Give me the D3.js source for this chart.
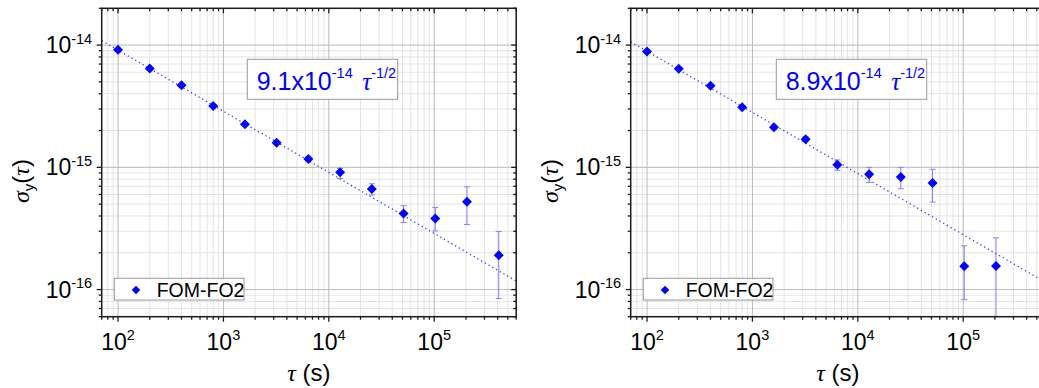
<!DOCTYPE html>
<html>
<head>
<meta charset="utf-8">
<script src="https://cdn.jsdelivr.net/npm/d3@7"></script>
<style>
  html, body { margin: 0; padding: 0; background: #fff; }
  svg { display: block; }
</style>
</head>
<body>
<svg id="chart" width="1039" height="388"></svg>
<script>
// ---------------- data ----------------
const tauLeft = [100, 200, 400, 800, 1600, 3200, 6400, 12800, 25600, 51200, 102400, 204800, 409600];
const sigmaLeft = [9.15e-15, 6.43e-15, 4.70e-15, 3.18e-15, 2.25e-15, 1.59e-15, 1.17e-15, 9.1e-16, 6.64e-16, 4.2e-16, 3.82e-16, 5.23e-16, 1.91e-16];
const upperLeft = [9.3e-15, 6.55e-15, 4.8e-15, 3.25e-15, 2.3e-15, 1.64e-15, 1.22e-15, 9.8e-16, 7.34e-16, 4.85e-16, 4.7e-16, 6.93e-16, 2.99e-16];
const lowerLeft = [9.0e-15, 6.3e-15, 4.6e-15, 3.1e-15, 2.2e-15, 1.54e-15, 1.12e-15, 8.1e-16, 5.93e-16, 3.54e-16, 3.02e-16, 3.41e-16, 8.44e-17];

const tauRight = [100, 200, 400, 800, 1600, 3200, 6400, 12800, 25600, 51200, 102400, 204800];
const sigmaRight = [8.87e-15, 6.4e-15, 4.64e-15, 3.1e-15, 2.13e-15, 1.70e-15, 1.05e-15, 8.8e-16, 8.33e-16, 7.44e-16, 1.55e-16, 1.56e-16];
const upperRight = [9.0e-15, 6.5e-15, 4.75e-15, 3.18e-15, 2.2e-15, 1.78e-15, 1.15e-15, 1.0e-15, 1.0e-15, 9.63e-16, 2.28e-16, 2.65e-16];
const lowerRight = [8.7e-15, 6.3e-15, 4.55e-15, 3.02e-15, 2.06e-15, 1.62e-15, 9.45e-16, 7.53e-16, 6.68e-16, 5.2e-16, 8.28e-17, 3e-17];

const fitCoefLeft = 9.1e-14;
const fitCoefRight = 8.9e-14;
const fitMantLeft = "9.1";
const fitMantRight = "8.9";

const xDomain = [70, 6e5];
const yDomain = [6e-17, 2e-14];
const xMajor = [1e2, 1e3, 1e4, 1e5];
const xMajorExp = ["2", "3", "4", "5"];
const yMajor = [1e-14, 1e-15, 1e-16];
const yMajorExp = ["-14", "-15", "-16"];
const seriesName = "FOM-FO2";

// ---------------- layout ----------------
const svg = d3.select("#chart");
const SANS = "Arial, 'Liberation Sans', sans-serif";
const SERIF = "'Times New Roman', 'Liberation Serif', serif";
const plotW = 414.5, plotH = 308.4, plotTop = 8.3;
const BLUE = "#0000ff";

function minorTicks(lo, hi) {
  const out = [];
  for (let e = Math.floor(Math.log10(lo)); e <= Math.ceil(Math.log10(hi)); e++) {
    for (let k = 2; k <= 9; k++) {
      const v = k * Math.pow(10, e);
      if (v >= lo && v <= hi) out.push(v);
    }
  }
  return out;
}

function drawPanel(idx, left, tau, sigma, upper, lower, coef, mant) {
  const g = svg.append("g").attr("transform", `translate(${left},${plotTop})`);
  const x = d3.scaleLog().domain(xDomain).range([0, plotW]);
  const y = d3.scaleLog().domain(yDomain).range([plotH, 0]);
  const xMinor = minorTicks(xDomain[0], xDomain[1]);
  const yMinor = minorTicks(yDomain[0], yDomain[1]);

  const clipId = "clip" + idx;
  g.append("clipPath").attr("id", clipId).append("rect")
    .attr("x", 0).attr("y", 0).attr("width", plotW).attr("height", plotH);

  // grid
  const grid = g.append("g");
  grid.selectAll("line.vmin").data(xMinor).join("line")
    .attr("x1", d => x(d)).attr("x2", d => x(d)).attr("y1", 0).attr("y2", plotH)
    .attr("stroke", "#e4e4e4").attr("stroke-width", 1);
  grid.selectAll("line.hmin").data(yMinor).join("line")
    .attr("y1", d => y(d)).attr("y2", d => y(d)).attr("x1", 0).attr("x2", plotW)
    .attr("stroke", "#e4e4e4").attr("stroke-width", 1);
  grid.selectAll("line.vmaj").data(xMajor).join("line")
    .attr("x1", d => x(d)).attr("x2", d => x(d)).attr("y1", 0).attr("y2", plotH)
    .attr("stroke", "#b9b9b9").attr("stroke-width", 1);
  grid.selectAll("line.hmaj").data(yMajor).join("line")
    .attr("y1", d => y(d)).attr("y2", d => y(d)).attr("x1", 0).attr("x2", plotW)
    .attr("stroke", "#b9b9b9").attr("stroke-width", 1);

  // fit line
  const data = tau.map((t, i) => ({ t, s: sigma[i], hi: upper[i], lo: lower[i] }));
  const body = g.append("g").attr("clip-path", `url(#${clipId})`);
  body.append("path")
    .datum(xDomain.map(t => ({ t, s: coef / Math.sqrt(t) })))
    .attr("d", d3.line().x(d => x(d.t)).y(d => y(d.s)))
    .attr("fill", "none").attr("stroke", "#3b3bff").attr("stroke-width", 1.3)
    .attr("stroke-dasharray", "1.3,3");

  // error bars
  const eb = body.append("g").attr("stroke", "#8585ee").attr("stroke-width", 1);
  eb.selectAll("line.v").data(data).join("line")
    .attr("x1", d => x(d.t)).attr("x2", d => x(d.t))
    .attr("y1", d => y(d.hi)).attr("y2", d => y(d.lo));
  eb.selectAll("line.cu").data(data).join("line")
    .attr("x1", d => x(d.t) - 3).attr("x2", d => x(d.t) + 3)
    .attr("y1", d => y(d.hi)).attr("y2", d => y(d.hi));
  eb.selectAll("line.cl").data(data).join("line")
    .attr("x1", d => x(d.t) - 3).attr("x2", d => x(d.t) + 3)
    .attr("y1", d => y(d.lo)).attr("y2", d => y(d.lo));

  // markers
  const dm = 5;
  body.selectAll("path.pt").data(data).join("path")
    .attr("d", d => `M${x(d.t)},${y(d.s) - dm}L${x(d.t) + dm},${y(d.s)}L${x(d.t)},${y(d.s) + dm}L${x(d.t) - dm},${y(d.s)}Z`)
    .attr("fill", BLUE);

  // frame
  g.append("rect").attr("x", 0).attr("y", 0).attr("width", plotW).attr("height", plotH)
    .attr("fill", "none").attr("stroke", "#1c1c1c").attr("stroke-width", 1.5);

  // ticks
  const tk = g.append("g").attr("stroke", "#1c1c1c").attr("stroke-width", 1.3);
  tk.selectAll("line.bM").data(xMajor).join("line")
    .attr("x1", d => x(d)).attr("x2", d => x(d)).attr("y1", plotH).attr("y2", plotH + 5);
  tk.selectAll("line.bm").data(xMinor).join("line")
    .attr("x1", d => x(d)).attr("x2", d => x(d)).attr("y1", plotH).attr("y2", plotH + 3);
  tk.selectAll("line.tM").data(xMajor).join("line")
    .attr("x1", d => x(d)).attr("x2", d => x(d)).attr("y1", 0).attr("y2", 5);
  tk.selectAll("line.tm").data(xMinor).join("line")
    .attr("x1", d => x(d)).attr("x2", d => x(d)).attr("y1", 0).attr("y2", 3);
  tk.selectAll("line.lM").data(yMajor).join("line")
    .attr("y1", d => y(d)).attr("y2", d => y(d)).attr("x1", -5).attr("x2", 0);
  tk.selectAll("line.lm").data(yMinor).join("line")
    .attr("y1", d => y(d)).attr("y2", d => y(d)).attr("x1", -3).attr("x2", 0);
  tk.selectAll("line.rM").data(yMajor).join("line")
    .attr("y1", d => y(d)).attr("y2", d => y(d)).attr("x1", plotW - 5).attr("x2", plotW);
  tk.selectAll("line.rm").data(yMinor).join("line")
    .attr("y1", d => y(d)).attr("y2", d => y(d)).attr("x1", plotW - 3).attr("x2", plotW);

  // x tick labels
  const xl = g.selectAll("text.xl").data(xMajor).join("text")
    .attr("x", d => x(d)).attr("y", plotH + 33.5)
    .attr("text-anchor", "middle").attr("font-family", SANS).attr("font-size", 23).attr("fill", "#000");
  xl.append("tspan").text("10");
  xl.append("tspan").attr("font-size", 14.5).attr("dy", -10).text((d, i) => xMajorExp[i]);

  // y tick labels
  const yl = g.selectAll("text.yl").data(yMajor).join("text")
    .attr("x", -9.5).attr("y", d => y(d) + 8)
    .attr("text-anchor", "end").attr("font-family", SANS).attr("font-size", 23).attr("fill", "#000");
  yl.append("tspan").text("10");
  yl.append("tspan").attr("font-size", 14.5).attr("dy", -9.5).text((d, i) => yMajorExp[i]);

  // x axis title
  const xt = g.append("text").attr("x", plotW / 2).attr("y", 381.5 - plotTop)
    .attr("text-anchor", "middle").attr("font-family", SANS).attr("font-size", 24).attr("fill", "#000");
  xt.append("tspan").attr("font-family", SERIF).attr("font-style", "italic").text("τ");
  xt.append("tspan").text(" (s)");

  // y axis title (relative to the panel's left edge)
  const yt = g.append("text")
    .attr("transform", `translate(${-72.7},${181 - plotTop}) rotate(-90)`)
    .attr("text-anchor", "middle").attr("font-family", SANS).attr("font-size", 24).attr("fill", "#000");
  yt.append("tspan").attr("font-family", SERIF).attr("font-style", "italic").text("σ");
  yt.append("tspan").attr("font-size", 15).attr("dy", 5).attr("font-family", SANS).text("y");
  yt.append("tspan").attr("dy", -5).text("(");
  yt.append("tspan").attr("font-family", SERIF).attr("font-style", "italic").text("τ");
  yt.append("tspan").text(")");

  // annotation box
  const ax = 247.3 - 101.7, ay = 59.3 - plotTop;
  g.append("rect").attr("x", ax).attr("y", ay).attr("width", 150.4).attr("height", 40)
    .attr("fill", "#fff").attr("stroke", "#9a9a9a").attr("stroke-width", 1);
  const at = g.append("text").attr("x", ax + 9.4).attr("y", ay + 30.3)
    .attr("font-family", SANS).attr("font-size", 25).attr("fill", BLUE);
  at.append("tspan").text(mant + "x10");
  at.append("tspan").attr("font-size", 14.5).attr("dy", -12).text("-14");
  at.append("tspan").attr("dy", 12).attr("dx", 9.5).attr("font-family", SERIF).attr("font-style", "italic").text("τ");
  at.append("tspan").attr("font-size", 14.5).attr("dy", -12).text("-1/2");

  // legend
  const lx = 114.3 - 101.7, ly = 278.3 - plotTop;
  g.append("rect").attr("x", lx).attr("y", ly).attr("width", 129.7).attr("height", 21.7)
    .attr("fill", "#fff").attr("stroke", "#9a9a9a").attr("stroke-width", 1);
  const lmx = lx + 21.7, lmy = ly + 11.7, ld = 4.3;
  g.append("path")
    .attr("d", `M${lmx},${lmy - ld}L${lmx + ld},${lmy}L${lmx},${lmy + ld}L${lmx - ld},${lmy}Z`)
    .attr("fill", BLUE);
  g.append("text").attr("x", lx + 42.4).attr("y", ly + 18.3)
    .attr("font-family", SANS).attr("font-size", 19.5).attr("fill", "#000").text(seriesName);
}

drawPanel(0, 101.7, tauLeft, sigmaLeft, upperLeft, lowerLeft, fitCoefLeft, fitMantLeft);
drawPanel(1, 630.7, tauRight, sigmaRight, upperRight, lowerRight, fitCoefRight, fitMantRight);
</script>
</body>
</html>
